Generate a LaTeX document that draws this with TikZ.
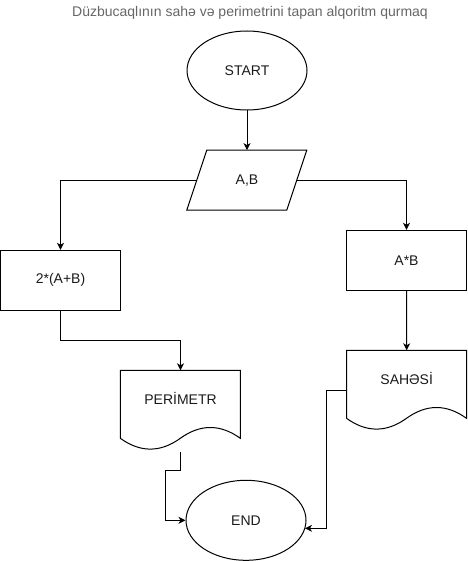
\documentclass[tikz,border=0pt]{standalone}
\usepackage{fontspec}
\setmainfont{Liberation Sans}
\usetikzlibrary{shapes.geometric,arrows.meta,calc}
\definecolor{titlegray}{HTML}{666666}
\definecolor{labelink}{HTML}{1A1A1A}
\begin{document}
\begin{tikzpicture}[x=1pt,y=-1pt,
  every node/.style={font=\fontsize{14}{16}\selectfont, inner sep=0pt, text=labelink},
  line/.style={draw=black, line width=1pt},
  flow/.style={line, -{Stealth[length=7pt,width=7pt,inset=2pt]}},
  terminal/.style={ellipse, line, minimum width=120pt, minimum height=80pt},
  process/.style={rectangle, line, minimum width=120pt, minimum height=60pt},
  iobox/.style={rectangle, minimum width=100pt, minimum height=60pt},
  docbox/.style={rectangle, minimum width=120pt, minimum height=56pt},
]
\useasboundingbox (0,0) rectangle (467,561);

% title
\node[text=titlegray] (title) at (250,13) {Düzbucaqlının sahə və perimetrini tapan alqoritm qurmaq};

% nodes
\node[terminal, minimum height=79pt] (start) at (247,70.5) {START};
\node[iobox] (inp) at (247,180.3) {A,B};
\node[process] (perp) at (60.5,280.3) {2*(A+B)};
\node[process] (area) at (406.5,260.3) {A*B};
\node[docbox, anchor=north west] (perim) at (120.3,370.3) {PERİMETR};
\node[docbox, anchor=north west] (sahe) at (346.5,350.3) {SAHƏSİ};
\node[terminal] (end) at (246,520.3) {END};

% input/output parallelogram
\draw[line, shift={(inp.north west)}] (10,0) -- (110,0) -- (90,60) -- (-10,60) -- cycle;

% document outlines (wavy bottom)
\foreach \d in {perim,sahe}{
  \draw[line, shift={(\d.north west)}] (0,0) -- (120,0) -- (120,68)
    .. controls (100,53.6) and (80,53.6) .. (60,68)
    .. controls (40,82.4) and (20,82.4) .. (0,68) -- cycle;
}
\coordinate (perimbot) at ($(perim.south)+(0,25)$);
\coordinate (saheleft) at ($(sahe.north west)+(0,40)$);
\coordinate (endin) at ($(end.west)+(-20,0)$);
\coordinate (endright) at ($(end.center)+(59,8)$);

% connectors
\draw[flow] (start) -- (inp);
\draw[flow] (inp.west) -| (perp.north);
\draw[flow] (inp.east) -| (area.north);
\draw[flow] (perp.south) -- ++(0,30) -| (perim.north);
\draw[flow] (area.south) -- (sahe.north);
\draw[flow] (perimbot) -- ++(0,19) -| (endin) -- (end.west);
\draw[flow] (saheleft) -- ++(-20.3,0) |- (endright);
\end{tikzpicture}
\end{document}
